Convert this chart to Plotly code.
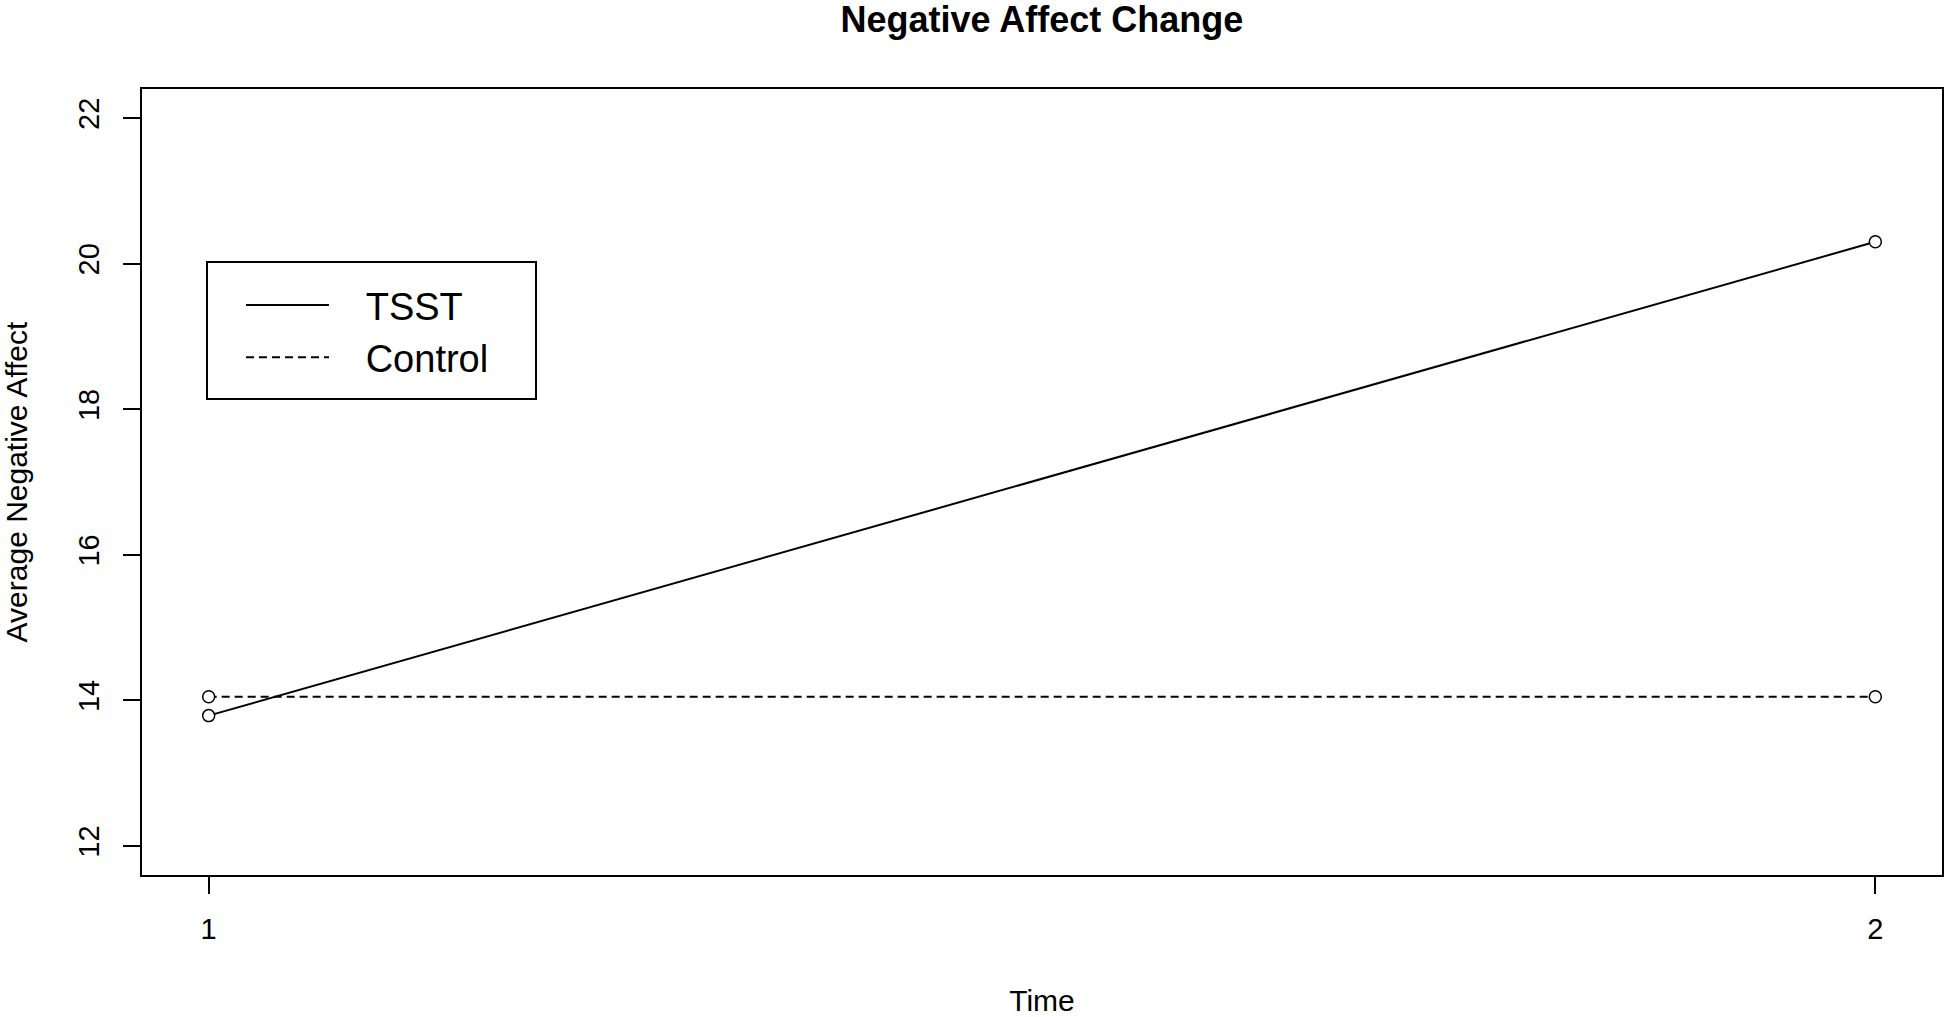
"""
Line chart of negative affect change over time for the TSST and control groups.
"""

import plotly.graph_objects as go

# Data
time_points = [1, 2]
tsst_values = [13.79, 20.30]
control_values = [14.05, 14.05]
group_names = ["TSST", "Control"]

y_tick_values = [12, 14, 16, 18, 20, 22]
x_tick_values = [1, 2]


def create_line_chart():
    """
    Build the R-style base plot with two groups.

    Returns:
        Plotly figure object
    """
    fig = go.Figure()

    # Solid line for TSST, dashed for Control (type="b" style points)
    series = [
        (group_names[0], tsst_values, "solid"),
        (group_names[1], control_values, "8px,5px"),
    ]
    for name, values, dash in series:
        # Line only trace carries the legend entry (R legend shows no point symbol)
        fig.add_trace(
            go.Scatter(
                x=time_points,
                y=values,
                mode="lines",
                name="&nbsp;&nbsp;&nbsp;" + name,
                line=dict(color="black", width=2, dash=dash),
            )
        )
        # Points drawn on top, white fill hides the line inside the circle
        fig.add_trace(
            go.Scatter(
                x=time_points,
                y=values,
                mode="markers",
                name=name,
                showlegend=False,
                marker=dict(symbol="circle", size=12, color="white", line=dict(color="black", width=1.5)),
            )
        )

    font_family = "Liberation Sans, Arial, sans-serif"
    axis_common = dict(
        showgrid=False,
        zeroline=False,
        showline=True,
        mirror=True,
        linecolor="black",
        linewidth=2,
        ticks="outside",
        ticklen=17,
        tickwidth=2,
        tickcolor="black",
        tickfont=dict(family=font_family, size=29, color="black"),
        automargin=False,
    )

    fig.update_layout(
        width=1950,
        height=1017,
        paper_bgcolor="white",
        plot_bgcolor="white",
        margin=dict(l=142, r=8, t=89, b=142),
        title=dict(
            text="<b>Negative Affect Change</b>",
            x=0.5343,
            xanchor="center",
            y=0.981,
            yanchor="middle",
            font=dict(family=font_family, size=36, color="black"),
        ),
        xaxis=dict(
            range=[0.96, 2.04],
            tickmode="array",
            tickvals=x_tick_values,
            ticklabelstandoff=10,
            title=dict(text="Time", standoff=60, font=dict(family=font_family, size=30, color="black")),
            **axis_common,
        ),
        yaxis=dict(
            range=[11.6, 22.4],
            tickmode="array",
            tickvals=y_tick_values,
            tickangle=-90,
            ticklabelstandoff=12,
            title=dict(
                text="Average Negative Affect",
                standoff=46,
                font=dict(family=font_family, size=30, color="black"),
            ),
            **axis_common,
        ),
        showlegend=True,
        legend=dict(
            x=0.055,
            y=0.765,
            xanchor="left",
            yanchor="top",
            bgcolor="rgba(0,0,0,0)",
            borderwidth=0,
            itemwidth=83,
            tracegroupgap=0,
            font=dict(family=font_family, size=38, color="black"),
        ),
    )

    # Legend frame as drawn by R's legend()
    fig.add_shape(
        type="rect",
        xref="paper",
        yref="paper",
        x0=(207 - 142) / 1800,
        x1=(536 - 142) / 1800,
        y0=1 - (399 - 89) / 786,
        y1=1 - (262 - 89) / 786,
        line=dict(color="black", width=2),
        fillcolor="rgba(0,0,0,0)",
        layer="above",
    )

    return fig


fig = create_line_chart()
# Drop the default page margin so the figure sits at the window's top-left corner
fig.write_html(
    "out.html",
    config={"displayModeBar": False},
    post_script="document.body.style.margin='0px';",
)
